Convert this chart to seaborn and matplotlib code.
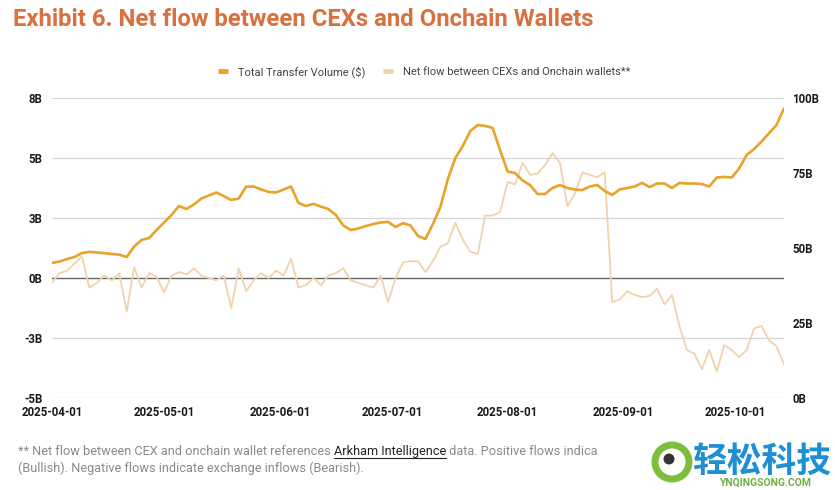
import matplotlib
matplotlib.use("Agg")
import matplotlib.pyplot as plt
import matplotlib.patches as mpatches
from matplotlib.lines import Line2D
import seaborn as sns
import pandas as pd
import numpy as np

start_date = "2025-04-01"
n_points = 99
volume_b = [45, 45.5, 46.3, 47, 48.3, 48.7, 48.5, 48.3, 48, 47.8,
            47.0, 50.5, 52.7, 53.3, 56, 58.5, 61, 64, 63, 64.5,
            66.5, 67.5, 68.5, 67.3, 66, 66.5, 70.5, 70.5, 69.5, 68.7,
            68.5, 69.5, 70.5, 65, 64, 64.7, 63.8, 63, 61, 57.5,
            56, 56.5, 57.3, 58, 58.5, 58.7, 57, 58.3, 57.5, 54,
            53, 58, 63.7, 73, 80, 84, 89, 91, 90.7, 90,
            82.5, 75.5, 75, 72.5, 71, 68, 68, 70, 71, 70,
            69.5, 69.3, 70.5, 71, 69, 67.7, 69.5, 70, 70.5, 71.7,
            70.3, 71.5, 71.5, 70, 71.7, 71.5, 71.5, 71.3, 70.5, 73.5,
            73.7, 73.5, 76.5, 81, 83, 85.5, 88.3, 91, 96.5]
netflow_b = [-0.2, 0.2, 0.3, 0.6, 0.9, -0.4, -0.2, 0.1, -0.1, 0.2,
             -1.4, 0.45, -0.4, 0.2, 0.05, -0.6, 0.1, 0.25, 0.15, 0.4,
             0.1, 0.0, -0.1, 0.1, -1.25, 0.4, -0.55, -0.1, 0.2, 0.0,
             0.3, 0.1, 0.8, -0.4, -0.3, 0.0, -0.3, 0.1, 0.2, 0.4,
             -0.1, -0.2, -0.3, -0.4, 0.1, -1.0, 0.0, 0.65, 0.7, 0.7,
             0.25, 0.7, 1.3, 1.45, 2.3, 1.6, 1.1, 1.0, 2.6, 2.6,
             2.75, 4.0, 3.9, 4.8, 4.3, 4.35, 4.7, 5.2, 4.8, 3.0,
             3.5, 4.4, 4.3, 4.2, 4.4, -1.0, -0.9, -0.55, -0.7, -0.8,
             -0.75, -0.45, -1.1, -0.7, -2.0, -3.0, -3.15, -3.8, -3.0, -3.9,
             -2.8, -3.0, -3.3, -3.0, -2.1, -2.0, -2.6, -2.85, -3.6]
left_ticks = [-5, -2.5, 0, 2.5, 5, 7.5]
left_labels = ["-5B", "-3B", "0B", "3B", "5B", "8B"]
right_ticks = [0, 25, 50, 75, 100]
right_labels = ["0B", "25B", "50B", "75B", "100B"]
x_ticks = ["2025-04-01", "2025-05-01", "2025-06-01", "2025-07-01",
           "2025-08-01", "2025-09-01", "2025-10-01"]

dates = pd.date_range(start_date, periods=n_points, freq="2D")
df = pd.DataFrame({"date": dates, "volume": volume_b, "netflow": netflow_b})

# ---- style ----
sns.set_theme(style="white")
plt.rcParams["font.family"] = ["Roboto", "DejaVu Sans"]

C_VOL = "#E9A22A"
C_NET = "#F0D3AC"
C_TITLE = "#D9703F"

W, H = 835, 490
fig = plt.figure(figsize=(W / 100, H / 100), dpi=100)
ax = fig.add_axes([52 / W, 92 / H, 732 / W, 300 / H])
ax2 = ax.twinx()

sns.lineplot(data=df, x="date", y="netflow", ax=ax, color=C_NET, linewidth=1.3)
sns.lineplot(data=df, x="date", y="volume", ax=ax2, color=C_VOL, linewidth=1.9)

ax.set_ylim(-5, 7.5)
ax2.set_ylim(0, 100)
ax.set_xlim(pd.Timestamp("2025-04-01"), pd.Timestamp("2025-10-14"))

ax.set_yticks(left_ticks)
ax.set_yticklabels(left_labels)
ax2.set_yticks(right_ticks)
ax2.set_yticklabels(right_labels)
ax.set_xticks(pd.to_datetime(x_ticks))
ax.set_xticklabels(x_ticks)

for a in (ax, ax2):
    for s in a.spines.values():
        s.set_visible(False)
    a.set_xlabel("")
    a.set_ylabel("")
    a.tick_params(length=0)

ax.tick_params(axis="y", pad=7, labelsize=8.3, labelcolor="#1a1a1a")
ax2.tick_params(axis="y", pad=6, labelsize=8.3, labelcolor="#1a1a1a")
ax.tick_params(axis="x", pad=6, labelsize=8.3, labelcolor="#1a1a1a")
for lab in ax.get_yticklabels() + ax2.get_yticklabels() + ax.get_xticklabels():
    lab.set_fontweight("bold")

for t in left_ticks:
    if t == 0:
        ax.axhline(t, color="#666666", linewidth=1.0, zorder=0.5)
    else:
        ax.axhline(t, color="#D6D6D6", linewidth=0.9, zorder=0.5)

# ---- title ----
fig.text(13 / W, 1 - 20 / H, "Exhibit 6. Net flow between CEXs and Onchain Wallets",
         color=C_TITLE, fontsize=17.2, fontweight="bold", va="center", ha="left")

# ---- legend ----
handles = [Line2D([], [], color=C_VOL, linewidth=3.5, solid_capstyle="butt"),
           Line2D([], [], color=C_NET, linewidth=3.5, solid_capstyle="butt")]
leg = fig.legend(handles, ["Total Transfer Volume ($)", "Net flow between CEXs and Onchain wallets**"],
                 loc="center", bbox_to_anchor=(424 / W, 1 - 72 / H), ncol=2, frameon=False,
                 fontsize=8, handlelength=0.9, handletextpad=0.9, columnspacing=1.6)
for t in leg.get_texts():
    t.set_color("#444444")

# ---- footnote ----
fc = "#8a8a8a"
fs = 9.2
y1 = 1 - 451 / H
y2 = 1 - 468 / H
t1 = fig.text(18 / W, y1, "** Net flow between CEX and onchain wallet references ",
              color=fc, fontsize=fs, va="center", ha="left")
fig.canvas.draw()
r = fig.canvas.get_renderer()
bb = t1.get_window_extent(r)
t2 = fig.text(bb.x1 / W, y1, "Arkham Intelligence", color="#222222", fontsize=fs,
              va="center", ha="left")
bb2 = t2.get_window_extent(r)
fig.add_artist(Line2D([bb2.x0 / W, bb2.x1 / W], [y1 - 7 / H, y1 - 7 / H],
                      color="#222222", linewidth=0.8, transform=fig.transFigure))
fig.text(bb2.x1 / W, y1, " data. Positive flows indica", color=fc, fontsize=fs,
         va="center", ha="left")
fig.text(18 / W, y2, "(Bullish). Negative flows indicate exchange inflows (Bearish).",
         color=fc, fontsize=fs, va="center", ha="left")

# ---- watermark ----
cx, cy = 672, 462
fig.add_artist(mpatches.Ellipse((cx / W, 1 - cy / H), 34 / W, 34 / H, transform=fig.transFigure,
                                facecolor="white", edgecolor="#7DBE3C", linewidth=5))
fig.add_artist(mpatches.Ellipse((669 / W, 1 - 459 / H), 11 / W, 11 / H, transform=fig.transFigure,
                                facecolor="#333333", edgecolor="none"))
fig.text(692 / W, 1 - 461 / H, "轻松科技", family=["Noto Sans CJK SC", "DejaVu Sans"],
         color="#1E8FD5", fontsize=25, fontweight="bold", va="center", ha="left")
fig.text(765 / W, 1 - 483 / H, "YNQINGSONG.COM", color="#6DB33F", fontsize=7.5,
         fontweight="bold", va="center", ha="center")

fig.savefig("out.png", dpi=100)
